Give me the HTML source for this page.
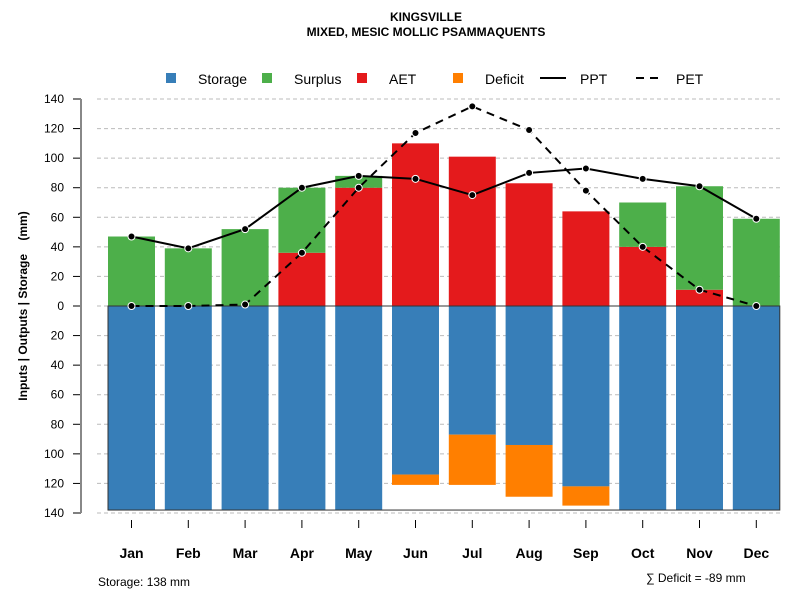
<!DOCTYPE html>
<html><head><meta charset="utf-8"><style>
body{margin:0;background:#fff}
svg text{font-family:"Liberation Sans",Arial,sans-serif}
</style></head><body>
<svg id="c" width="800" height="600" xmlns="http://www.w3.org/2000/svg">
<text x="426" y="21" text-anchor="middle" font-size="12" font-weight="bold">KINGSVILLE</text>
<text x="426" y="36" text-anchor="middle" font-size="12" font-weight="bold">MIXED, MESIC MOLLIC PSAMMAQUENTS</text>
<text transform="translate(27,306) rotate(-90)" text-anchor="middle" font-size="12" font-weight="bold">Inputs | Outputs | Storage&#160;&#160;&#160;&#160;(mm)</text>
<g id="legend">
<rect x="166" y="73" width="10" height="10" fill="#377eb8"/>
<text x="198" y="84" font-size="14">Storage</text>
<rect x="262" y="73" width="10" height="10" fill="#4daf4a"/>
<text x="294" y="84" font-size="14">Surplus</text>
<rect x="357" y="73" width="10" height="10" fill="#e41a1c"/>
<text x="389" y="84" font-size="14">AET</text>
<rect x="453" y="73" width="10" height="10" fill="#ff7f00"/>
<text x="485" y="84" font-size="14">Deficit</text>
<line x1="540" y1="78" x2="566" y2="78" stroke="#000" stroke-width="2"/>
<text x="580" y="84" font-size="14">PPT</text>
<line x1="636" y1="78" x2="662" y2="78" stroke="#000" stroke-width="2" stroke-dasharray="8,6"/>
<text x="676" y="84" font-size="14">PET</text>
</g>
<text x="98" y="586" font-size="12">Storage: 138 mm</text>
<text x="646" y="582" font-size="12">∑ Deficit = -89 mm</text>
</svg>
<script>
const months=["Jan","Feb","Mar","Apr","May","Jun","Jul","Aug","Sep","Oct","Nov","Dec"];
const storage=[138,138,138,138,138,114,87,94,122,138,138,138];
const deficit=[0,0,0,0,0,7,34,35,13,0,0,0];
const aet=[0,0,0,36,80,110,101,83,64,40,11,0];
const surplus=[47,39,52,44,8,0,0,0,0,30,70,59];
const ppt=[47,39,52,80,88,86,75,90,93,86,81,59];
const pet=[0,0,1,36,80,117,135,119,78,40,11,0];
const yTicks=[140,120,100,80,60,40,20,0,20,40,60,80,100,120,140];
const NS="http://www.w3.org/2000/svg";
const svg=document.getElementById('c');
const y0=306, k=207/140, x0=131.5, dx=56.8, bw=47;
const Y=v=>y0-v*k;
const X=i=>x0+i*dx;
function mk(t,a){const e=document.createElementNS(NS,t);for(const n in a)e.setAttribute(n,a[n]);svg.appendChild(e);return e;}
yTicks.forEach((t,i)=>{const v=140-i*20;const y=Y(v);
 const g=mk('line',{x1:97,x2:780,y1:y,y2:y,stroke:'#bbb','stroke-dasharray':'4,3'});
 
 
 const tk=mk('line',{x1:73,x2:81,y1:y,y2:y,stroke:'#000'});
 
 
 const tx=mk('text',{x:64,y:y+4,'text-anchor':'end','font-size':12});
 tx.textContent=t;
 
 
});
const ax=mk('line',{x1:81,x2:81,y1:Y(140),y2:Y(-140),stroke:'#888','stroke-width':2});


function bar(i,a,b,col,name){const r=mk('rect',{x:X(i)-bw/2,y:Y(Math.max(a,b)),width:bw,height:Math.abs(a-b)*k,fill:col});
 
 }
months.forEach((m,i)=>{
 bar(i,0,-storage[i],'#377eb8','bar-storage-'+m.toLowerCase());
 if(deficit[i])bar(i,-storage[i],-storage[i]-deficit[i],'#ff7f00','bar-deficit-'+m.toLowerCase());
 if(aet[i])bar(i,0,aet[i],'#e41a1c','bar-aet-'+m.toLowerCase());
 if(surplus[i])bar(i,aet[i],aet[i]+surplus[i],'#4daf4a','bar-surplus-'+m.toLowerCase());
 const tk=mk('line',{x1:X(i),x2:X(i),y1:520,y2:528,stroke:'#000'});
 
 
 const t=mk('text',{x:X(i),y:558,'text-anchor':'middle','font-size':14,'font-weight':'bold'});
 t.textContent=m;
 
 
});
const box=mk('rect',{x:X(0)-bw/2,y:y0,width:X(11)+bw/2-(X(0)-bw/2),height:Y(-138)-y0,fill:'none',stroke:'#333'});


function series(vals,dash,name){
 const p=mk('polyline',{points:vals.map((v,i)=>X(i)+','+Y(v)).join(' '),fill:'none',stroke:'#000','stroke-width':2,'stroke-dasharray':dash});
 
 
 vals.forEach((v,i)=>{const c=mk('circle',{cx:X(i),cy:Y(v),r:3.5,fill:'#000',stroke:'#fff','stroke-width':1});
  
  });
}
series(pet,'8,6','pet');
series(ppt,'none','ppt');
</script>
</body></html>
